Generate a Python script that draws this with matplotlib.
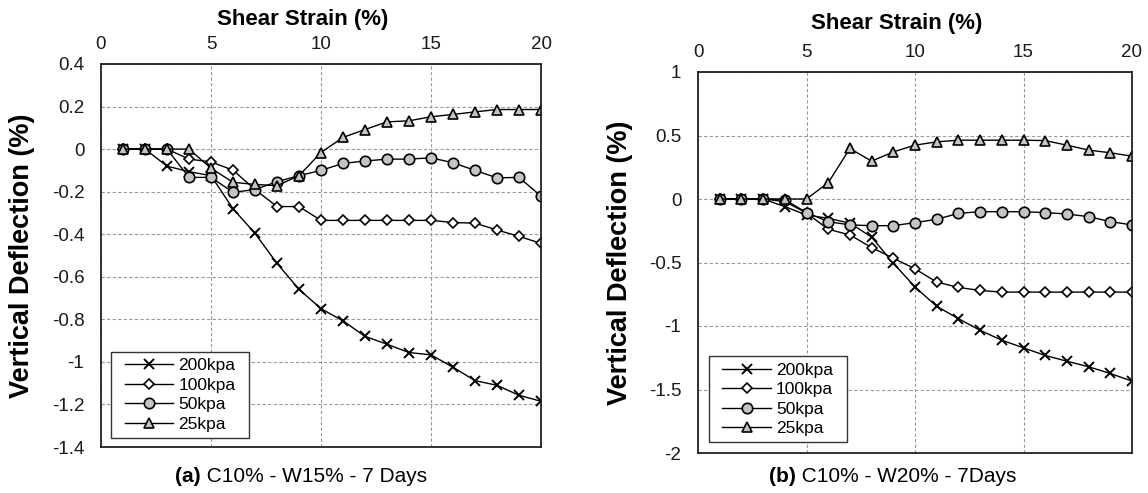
import matplotlib
matplotlib.use("Agg")
import matplotlib.pyplot as plt

plt.rcParams['font.family'] = ['Liberation Sans', 'DejaVu Sans']

# Shear strain (%) - same for every series
strain = list(range(1, 21))

# (a) C10% - W15% - 7 Days
a_200 = [0, 0, -0.08, -0.106, -0.125, -0.28, -0.396, -0.537, -0.659, -0.75,
         -0.807, -0.88, -0.917, -0.956, -0.967, -1.025, -1.088, -1.11, -1.157, -1.185]
a_100 = [0, 0, 0, -0.047, -0.06, -0.099, -0.19, -0.27, -0.27, -0.335,
         -0.335, -0.335, -0.335, -0.335, -0.335, -0.345, -0.348, -0.38, -0.41, -0.443]
a_50 = [0, 0, 0, -0.133, -0.133, -0.203, -0.19, -0.153, -0.125, -0.10,
        -0.067, -0.056, -0.047, -0.047, -0.041, -0.064, -0.10, -0.135, -0.133, -0.221]
a_25 = [0, 0, 0, 0, -0.09, -0.156, -0.166, -0.172, -0.125, -0.016,
        0.055, 0.092, 0.128, 0.133, 0.152, 0.163, 0.175, 0.186, 0.186, 0.186]

# (b) C10% - W20% - 7Days
b_200 = [0, 0, 0, -0.06, -0.126, -0.152, -0.19, -0.30, -0.505, -0.693,
         -0.845, -0.942, -1.034, -1.112, -1.172, -1.232, -1.277, -1.321, -1.374, -1.434]
b_100 = [0, 0, 0, -0.02, -0.11, -0.238, -0.283, -0.382, -0.466, -0.55,
         -0.654, -0.696, -0.72, -0.733, -0.733, -0.733, -0.733, -0.733, -0.733, -0.733]
b_50 = [0, 0, 0, -0.005, -0.107, -0.178, -0.204, -0.21, -0.21, -0.186,
        -0.16, -0.113, -0.10, -0.10, -0.10, -0.107, -0.118, -0.139, -0.178, -0.204]
b_25 = [0, 0, 0, 0, 0, 0.128, 0.398, 0.298, 0.371, 0.424,
        0.45, 0.463, 0.463, 0.463, 0.463, 0.46, 0.424, 0.385, 0.364, 0.337]

labels = ["200kpa", "100kpa", "50kpa", "25kpa"]
a_ticks = [-1.4, -1.2, -1, -0.8, -0.6, -0.4, -0.2, 0, 0.2, 0.4]
a_ticklabels = ["-1.4", "-1.2", "-1", "-0.8", "-0.6", "-0.4", "-0.2", "0", "0.2", "0.4"]
b_ticks = [-2, -1.5, -1, -0.5, 0, 0.5, 1]
b_ticklabels = ["-2", "-1.5", "-1", "-0.5", "0", "0.5", "1"]

grey = "#c4c4c4"
styles = [
    dict(marker="x", ms=6.5, mec="black", mew=1.4),
    dict(marker="D", ms=4.8, mfc="white", mec="black", mew=1.2),
    dict(marker="o", ms=7.5, mfc=grey, mec="black", mew=1.2),
    dict(marker="^", ms=7, mfc=grey, mec="black", mew=1.2),
]


def draw_panel(ax, series, ticks, ticklabels, ylim, legend_xy):
    for y, lab, st in zip(series, labels, styles):
        ax.plot(strain, y, color="black", lw=1.0, label=lab, **st)
    ax.set_xlim(0, 20)
    ax.set_ylim(*ylim)
    ax.set_xticks([0, 5, 10, 15, 20])
    ax.set_yticks(ticks)
    ax.set_yticklabels(ticklabels)
    ax.xaxis.tick_top()
    ax.tick_params(axis="both", length=0, labelsize=13.5, colors="#1a1a1a")
    ax.tick_params(axis="x", pad=8)
    ax.tick_params(axis="y", pad=12)
    ax.grid(True, color="#9a9a9a", lw=0.8, linestyle=(0, (3, 2)))
    for s in ax.spines.values():
        s.set_linewidth(1.3)
        s.set_color("#222222")
    ax.set_ylabel("Vertical Deflection (%)", fontsize=19.5, fontweight="bold")
    ax.yaxis.set_label_coords(-0.15, 0.5)
    leg = ax.legend(loc="lower left", bbox_to_anchor=legend_xy, borderaxespad=0,
                    fontsize=12.5, fancybox=False, edgecolor="#333333",
                    handlelength=2.8, handletextpad=0.3, labelspacing=0.25,
                    borderpad=0.35, framealpha=1)
    fr = leg.get_frame()
    fr.set_linewidth(1.0)
    # wider side padding than top/bottom, as in the original
    fr.set_boxstyle("square", pad=0.42)
    fr.set_mutation_aspect(0.01)


fig = plt.figure(figsize=(11.48, 4.93), dpi=100)
ax1 = fig.add_axes([101 / 1148, 46 / 493, 440 / 1148, 383 / 493])
ax2 = fig.add_axes([698 / 1148, 40 / 493, 434 / 1148, 381 / 493])

draw_panel(ax1, [a_200, a_100, a_50, a_25], a_ticks, a_ticklabels, (-1.4, 0.4), (0.040, 0.024))
draw_panel(ax2, [b_200, b_100, b_50, b_25], b_ticks, b_ticklabels, (-2, 1), (0.042, 0.028))

fig.text(303 / 1148, 1 - 20 / 493, "Shear Strain (%)", fontsize=16, fontweight="bold",
         ha="center", va="center")
fig.text(897 / 1148, 1 - 24 / 493, "Shear Strain (%)", fontsize=16, fontweight="bold",
         ha="center", va="center")

# captions, bold panel letter + normal text
for cx, letter, rest in [(301, "(a)", " C10% - W15% - 7 Days"), (893, "(b)", " C10% - W20% - 7Days")]:
    t = fig.text(0, 1 - 476 / 493, rest, fontsize=15, ha="left", va="center")
    tb = fig.text(0, 1 - 476 / 493, letter, fontsize=15, fontweight="bold", ha="left", va="center")
    fig.canvas.draw()
    w_rest = t.get_window_extent().width
    w_let = tb.get_window_extent().width
    x0 = cx - (w_let + w_rest) / 2
    tb.set_x(x0 / 1148)
    t.set_x((x0 + w_let) / 1148)

fig.savefig("out.png", dpi=100)
